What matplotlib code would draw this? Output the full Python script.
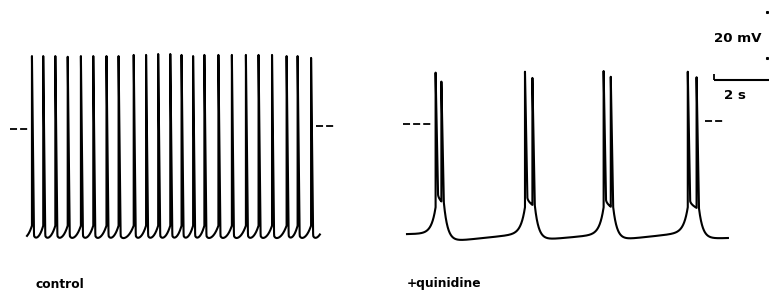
import numpy as np
import matplotlib
matplotlib.use("Agg")
import matplotlib.pyplot as plt

# ---------------- data (seconds, mV) ----------------
# control: single spikes
control_spike_times = [0.18, 0.59, 1.03, 1.48, 1.96, 2.41, 2.89, 3.33, 3.88, 4.33,
                       4.77, 5.21, 5.62, 6.04, 6.45, 6.96, 7.45, 7.96, 8.42, 8.91,
                       9.44, 9.84, 10.33]
control_spike_peaks = [31.7, 31.7, 31.7, 31.4, 31.7, 31.7, 31.7, 31.7, 32.2, 32.2,
                       32.6, 32.6, 32.2, 31.7, 32.2, 32.2, 32.2, 32.2, 32.2, 32.2,
                       31.7, 31.7, 30.9]
control_duration = 10.65
control_trough = -47.8
control_threshold = -42.0

# + quinidine: doublet bursts
quin_burst_onsets = [1.04, 4.29, 7.15, 10.21]
quin_second_spikes = [1.25, 4.56, 7.41, 10.53]
quin_peak1 = [24.5, 24.9, 25.2, 24.9]
quin_peak2 = [20.6, 22.2, 22.7, 22.5]
quin_spike1_end = [-28.0, -29.5, -30.5, -31.0]   # where first spike's fall ends
quin_intra = [-31.5, -33.0, -33.8, -34.3]        # notch between the two spikes
quin_post_trough = [-49.3, -48.6, -48.6, -47.9]
quin_pre_burst = [-45.5, -45.5, -45.8, -45.0]
quin_onset_level = -34.0
quin_start_v = -45.7
quin_end_v = -47.4
quin_duration = 11.67

zero_levels = [0.0, 1.3, 2.2, 3.5]     # dashed 0 mV markers (left/right of each trace)
scale_time = 2.0    # s
scale_volt = 20.0   # mV
labels = ["control", "+quinidine"]

# ---------------- layout ----------------
W, H = 769, 291
PX_PER_S = 27.5
PX_PER_MV = 2.3
ZERO_PY = 129
control_x0 = 27 / PX_PER_S
quin_x0 = 407 / PX_PER_S

fig = plt.figure(figsize=(W / 100, H / 100), dpi=100)
ax = fig.add_axes([0, 0, 1, 1])
ax.set_xlim(0, W / PX_PER_S)
ax.set_ylim((ZERO_PY - H) / PX_PER_MV, ZERO_PY / PX_PER_MV)
ax.axis("off")


def make_grid(t_end, spikes, dt=0.002):
    s = np.asarray(spikes, float)
    t = np.arange(0, t_end + dt / 2, dt)
    return np.unique(np.concatenate([t, s, s - 1e-5]))


def add_spikes(t, slow, spikes, peaks, fall):
    v = slow.copy()
    for ts, pk in zip(spikes, peaks):
        i = np.searchsorted(t, ts)
        base = slow[i]
        m = (t >= ts) & (t < ts + fall)
        v[m] += (pk - base) * (1 - (t[m] - ts) / fall)
    return v


# control trace
ct = np.asarray(control_spike_times)
isi = np.diff(ct).mean()
edges = np.concatenate([[ct[0] - isi], ct, [ct[-1] + isi]])
t = make_grid(control_duration, ct)
k = np.clip(np.searchsorted(edges, t, side="right") - 1, 0, len(edges) - 2)
t0 = edges[k]
T = edges[k + 1] - edges[k]
s = (t - t0) / T
slow = control_trough + (control_threshold - control_trough) * (s ** 3 + np.exp(-(t - t0) / 0.05))
v = add_spikes(t, slow, ct, control_spike_peaks, 0.075)
ax.plot(t + control_x0, v, color="black", lw=1.5, solid_joinstyle="round")

# quinidine trace
b = np.asarray(quin_burst_onsets)
e = np.asarray(quin_second_spikes)
spk = np.sort(np.concatenate([b, e]))
pks = []
for p1, p2 in zip(quin_peak1, quin_peak2):
    pks += [p1, p2]
t = make_grid(quin_duration, spk)
slow = np.empty_like(t)
fall = 0.085
tau_d, tau_r = 0.14, 0.15
n = len(b)
for j in range(n + 1):
    seg_start = 0.0 if j == 0 else e[j - 1]
    seg_end = b[j] if j < n else quin_duration + 1e-3
    m = (t >= seg_start) & (t < seg_end)
    tt = t[m]
    v_from = quin_start_v if j == 0 else quin_post_trough[j - 1]
    v_to = quin_pre_burst[j] if j < n else quin_end_v
    dur = (b[j] if j < n else quin_duration) - seg_start
    ramp = v_from + (v_to - v_from) * (tt - seg_start) / dur
    val = ramp.copy()
    if j > 0:
        val += (quin_intra[j - 1] - v_from) * np.exp(-np.clip(tt - seg_start - fall, 0, None) / tau_d)
    if j < n:
        val += (quin_onset_level - v_to) * np.exp((tt - b[j]) / tau_r)
    slow[m] = val
    if j < n:
        # inside burst: first spike lands at spike1_end, then dips into notch before spike 2
        mb = (t >= b[j]) & (t < e[j])
        tb = t[mb]
        t_land = b[j] + fall
        frac = np.clip((tb - t_land) / max(e[j] - t_land, 1e-3), 0, 1)
        slow[mb] = quin_spike1_end[j] + (quin_intra[j] - quin_spike1_end[j]) * np.sqrt(frac)
v = add_spikes(t, slow, spk, pks, fall)
ax.plot(t + quin_x0, v, color="black", lw=1.5, solid_joinstyle="round")

# dashed zero-level markers
dash = dict(color="black", lw=1.3, ls=(0, (3.9, 1.7)))
ax.plot([10 / PX_PER_S, 29.5 / PX_PER_S], [zero_levels[0]] * 2, **dash)
ax.plot([316 / PX_PER_S, 335 / PX_PER_S], [zero_levels[1]] * 2, **dash)
ax.plot([403 / PX_PER_S, 433 / PX_PER_S], [zero_levels[2]] * 2, **dash)
ax.plot([705 / PX_PER_S, 724 / PX_PER_S], [zero_levels[3]] * 2, **dash)

# scale bar
sb_x = 714 / PX_PER_S
sb_y = (ZERO_PY - 80) / PX_PER_MV
ax.plot([sb_x, sb_x + scale_time], [sb_y, sb_y], color="black", lw=1.5, solid_capstyle="butt")
ax.plot([sb_x, sb_x], [sb_y, sb_y + 2.6], color="black", lw=1.3, solid_capstyle="butt")
vx = 767 / PX_PER_S
vy0 = (ZERO_PY - 58) / PX_PER_MV
ax.plot([vx, vx], [vy0, vy0 + scale_volt], ls="none", marker="s", ms=1.2, color="black")

tk = dict(color="black", fontsize=9.6, fontweight="bold", family="DejaVu Sans")
fig.text(738 / W, 1 - 38 / H, f"{scale_volt:.0f} mV", ha="center", va="center", **tk)
fig.text(735 / W, 1 - 96 / H, f"{scale_time:.0f} s", ha="center", va="center", **tk)
lk = dict(color="black", fontsize=8.8, fontweight="bold", family="DejaVu Sans")
fig.text(60 / W, 1 - 285 / H, labels[0], ha="center", va="center", **lk)
fig.text(444 / W, 1 - 283 / H, labels[1], ha="center", va="center", **lk)

fig.savefig("out.png", dpi=100)
